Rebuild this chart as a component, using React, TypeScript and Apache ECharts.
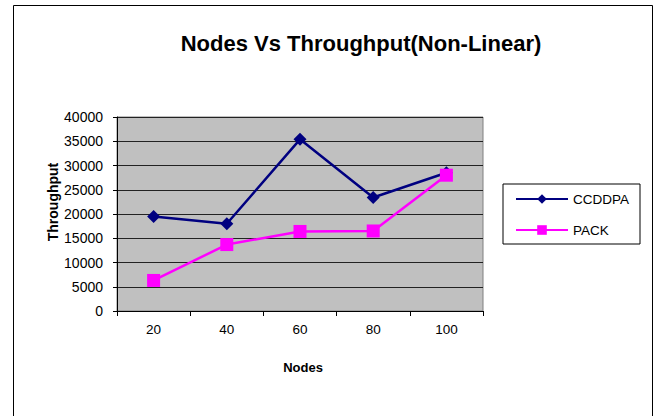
import React, { useEffect, useRef } from "react";
import * as echarts from "echarts";

const categories = ["20", "40", "60", "80", "100"];
const ccddpa = [19500, 18000, 35400, 23400, 28500];
const pack = [6300, 13700, 16400, 16500, 28000];
const seriesNames = ["CCDDPA", "PACK"];
const titleText = "Nodes Vs Throughput(Non-Linear)";
const xName = "Nodes";
const yName = "Throughput";

const FONT = "'Liberation Sans', Arial, Helvetica, sans-serif";

export default function App() {
  const ref = useRef<HTMLDivElement>(null);
  useEffect(() => {
    if (!ref.current) return;
    const chart = echarts.init(ref.current, undefined, { renderer: "svg" });
    chart.setOption({
      animation: false,
      backgroundColor: "#ffffff",
      textStyle: { fontFamily: FONT },
      grid: {
        left: 117,
        top: 117,
        right: 173,
        bottom: 105,
        show: true,
        backgroundColor: "#C0C0C0",
        borderColor: "#808080",
        borderWidth: 1,
      },
      xAxis: {
        type: "category",
        data: categories,
        boundaryGap: true,
        axisLine: { show: true, lineStyle: { color: "#000", width: 1 } },
        axisTick: { show: true, length: 5, alignWithLabel: false, lineStyle: { color: "#000" } },
        axisLabel: { color: "#000", fontSize: 13.5, margin: 11, fontFamily: FONT },
        splitLine: { show: false },
      },
      yAxis: {
        type: "value",
        min: 0,
        max: 40000,
        interval: 5000,
        axisLine: { show: true, lineStyle: { color: "#000", width: 1 } },
        axisTick: { show: true, length: 4, lineStyle: { color: "#000" } },
        axisLabel: {
          color: "#000",
          fontSize: 14,
          margin: 14,
          fontFamily: FONT,
          formatter: (v: number) => String(v),
        },
        splitLine: { show: true, lineStyle: { color: "#222", width: 1 } },
      },
      legend: {
        orient: "vertical",
        left: 503,
        top: 184,
        data: seriesNames,
        itemWidth: 52,
        itemHeight: 12,
        itemGap: 17,
        padding: [8, 11, 7, 12],
        borderColor: "#000",
        borderWidth: 1,
        backgroundColor: "#fff",
        textStyle: { color: "#000", fontSize: 13.5, lineHeight: 14, fontFamily: FONT },
      },
      graphic: [
        {
          type: "rect",
          z: -10,
          silent: true,
          shape: { x: 13.5, y: 5.5, width: 639, height: 430 },
          style: { fill: "none", stroke: "#000", lineWidth: 1 },
        },
        {
          type: "text",
          x: 361,
          y: 43,
          style: {
            text: titleText,
            fontSize: 22,
            fontWeight: "bold",
            fontFamily: FONT,
            fill: "#000",
            textAlign: "center",
            textVerticalAlign: "middle",
          },
        },
        {
          type: "text",
          x: 303,
          y: 367,
          style: {
            text: xName,
            fontSize: 13,
            fontWeight: "bold",
            fontFamily: FONT,
            fill: "#000",
            textAlign: "center",
            textVerticalAlign: "middle",
          },
        },
        {
          type: "text",
          x: 53,
          y: 202,
          rotation: Math.PI / 2,
          z: 100,
          style: {
            text: yName,
            fontSize: 14,
            fontWeight: "bold",
            fontFamily: FONT,
            fill: "#000",
            textAlign: "center",
            textVerticalAlign: "middle",
          },
        },
      ],
      series: [
        {
          name: seriesNames[0],
          type: "line",
          data: ccddpa,
          symbol: "diamond",
          symbolSize: 13,
          color: "#000080",
          lineStyle: { color: "#000080", width: 2.5 },
          itemStyle: { color: "#000080" },
        },
        {
          name: seriesNames[1],
          type: "line",
          data: pack,
          symbol: "rect",
          symbolSize: 13,
          color: "#FF00FF",
          lineStyle: { color: "#FF00FF", width: 2.5 },
          itemStyle: { color: "#FF00FF" },
        },
      ],
    });
    return () => chart.dispose();
  }, []);
  return (
    <div
      ref={ref}
      style={{ position: "absolute", left: 0, top: 0, width: 656, height: 416 }}
    />
  );
}
